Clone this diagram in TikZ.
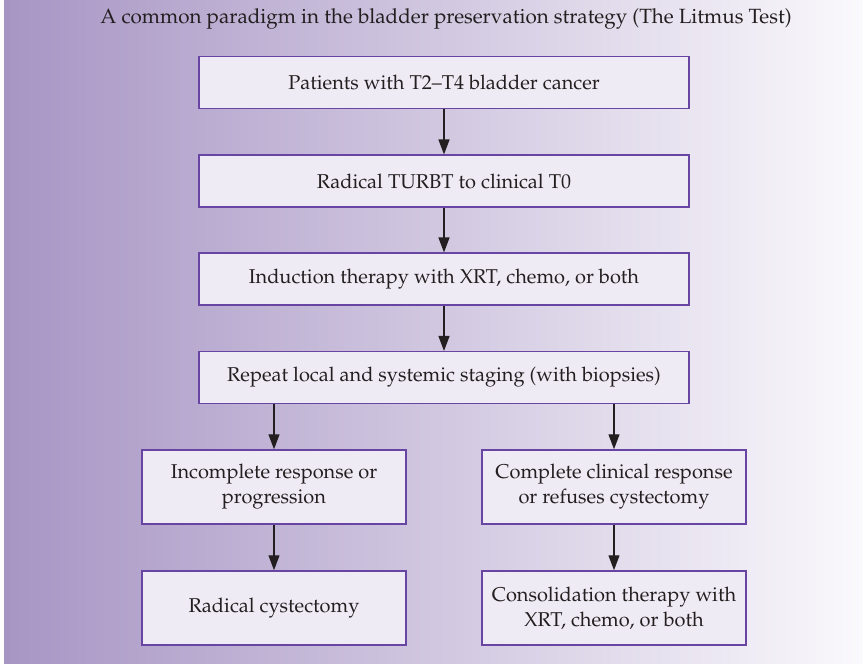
\documentclass[tikz,border=0pt]{standalone}
\usepackage[T1]{fontenc}
\usepackage{mathpazo}
\usetikzlibrary{arrows.meta}
\definecolor{bgleft}{RGB}{167,149,196}
\definecolor{bgright}{RGB}{250,249,252}
\definecolor{boxfill}{RGB}{239,235,245}
\definecolor{boxline}{RGB}{104,68,163}
\definecolor{arrowcol}{RGB}{35,31,32}
\tikzset{
  flowbox/.style={draw=boxline, fill=boxfill, line width=1.5pt, align=center,
    inner sep=0pt, font=\fontsize{20}{25}\selectfont, text=arrowcol},
  mainbox/.style={flowbox, minimum width=490pt, minimum height=51.6pt},
  sidebox/.style={flowbox, minimum width=264pt, minimum height=74pt},
  flowarrow/.style={draw=arrowcol, line width=1.3pt, -{Triangle[length=15pt,width=11pt]}},
  titletext/.style={font=\fontsize{20.6}{24}\selectfont, text=arrowcol, inner sep=0pt}
}
\begin{document}
\begin{tikzpicture}[x=1pt,y=-1pt]
\useasboundingbox (0,0) rectangle (863,664);
\fill[white] (0,0) rectangle (863,664);
\shade[left color=bgleft, right color=bgright] (4,0) rectangle (863,664);
\node[titletext, anchor=base] (title) at (446,23.3) {A common paradigm in the bladder preservation strategy (The Litmus Test)};
\node[mainbox] (b1) at (444,82.5) {Patients with T2--T4 bladder cancer};
\node[mainbox] (b2) at (444,181) {Radical TURBT to clinical T0};
\node[mainbox] (b3) at (444,279) {Induction therapy with XRT, chemo, or both};
\node[mainbox] (b4) at (444,377.5) {Repeat local and systemic staging (with biopsies)};
\node[sidebox] (b5) at (274,487) {Incomplete response or\\progression};
\node[sidebox] (b6) at (614,487) {Complete clinical response\\or refuses cystectomy};
\node[sidebox] (b7) at (274,608) {Radical cystectomy};
\node[sidebox] (b8) at (614,608) {Consolidation therapy with\\XRT, chemo, or both};
\draw[flowarrow] (b1) -- (b2);
\draw[flowarrow] (b2) -- (b3);
\draw[flowarrow] (b3) -- (b4);
\draw[flowarrow] (b4.south -| b5.north) -- (b5.north);
\draw[flowarrow] (b4.south -| b6.north) -- (b6.north);
\draw[flowarrow] (b5) -- (b7);
\draw[flowarrow] (b6) -- (b8);
\end{tikzpicture}
\end{document}
